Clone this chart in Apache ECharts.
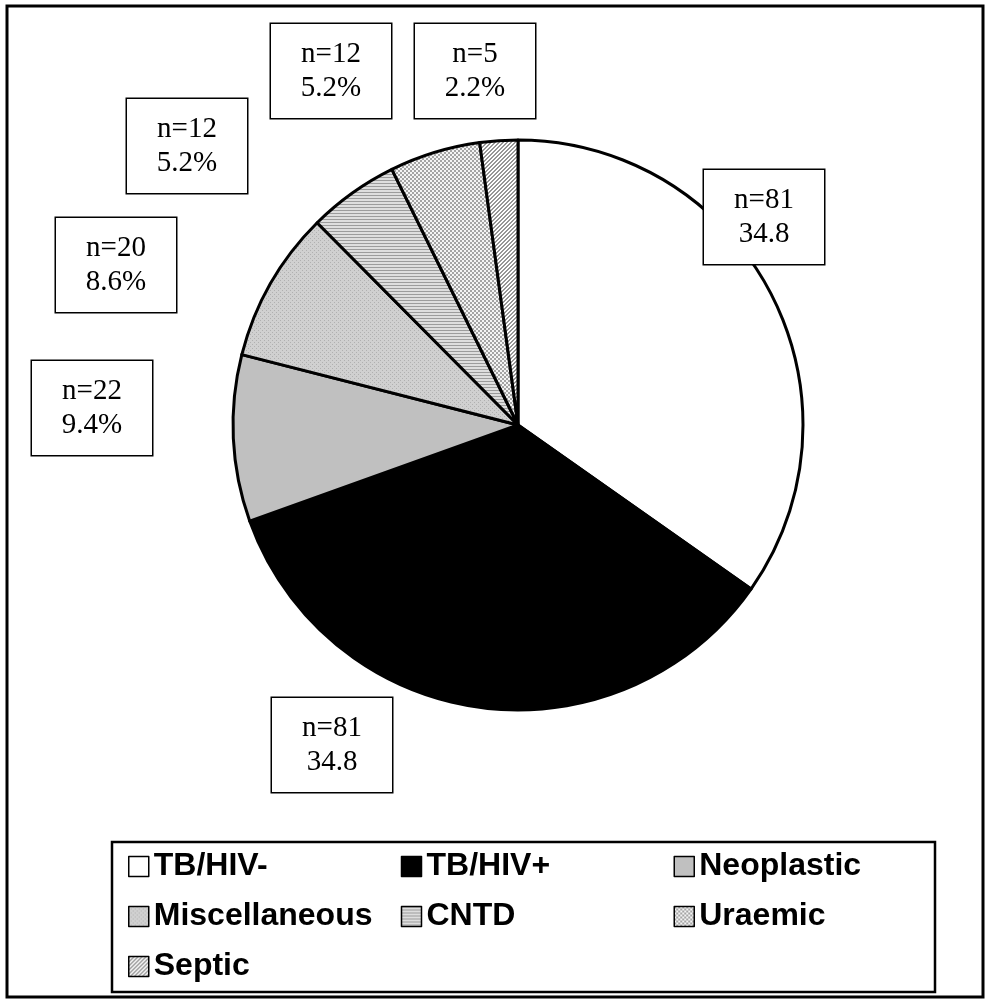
<!DOCTYPE html>
<html>
<head>
<meta charset="utf-8">
<script src="https://cdn.jsdelivr.net/npm/echarts@6/dist/echarts.min.js"></script>
<style>
html,body{margin:0;padding:0;background:#fff;}
#chart{width:986px;height:1002px;}
</style>
</head>
<body>
<div id="chart"></div>
<script>
const categories = ['TB/HIV-', 'TB/HIV+', 'Neoplastic', 'Miscellaneous', 'CNTD', 'Uraemic', 'Septic'];
const counts = [81, 81, 22, 20, 12, 12, 5];
const pctLabels = ['34.8', '34.8', '9.4%', '8.6%', '5.2%', '5.2%', '2.2%'];

// label box centres (layout only)
const labelCenters = [[764, 217], [332, 745], [92, 408], [116, 265], [187, 146], [331, 71], [475, 71]];

function pattern(w, h, fn) {
  const c = document.createElement('canvas');
  c.width = w; c.height = h;
  const ctx = c.getContext('2d');
  for (let y = 0; y < h; y++) {
    for (let x = 0; x < w; x++) {
      ctx.fillStyle = fn(x, y);
      ctx.fillRect(x, y, 1, 1);
    }
  }
  return { image: c, repeat: 'repeat' };
}

const fills = [
  '#ffffff',
  '#000000',
  '#c0c0c0',
  pattern(4, 4, (x, y) => ((x === 0 && y === 0) || (x === 2 && y === 2)) ? '#b0b0b0' : '#d0d0d0'),
  pattern(1, 3, (x, y) => y === 0 ? '#9c9c9c' : '#dedede'),
  pattern(4, 4, (x, y) => ((Math.floor(x / 2) + Math.floor(y / 2)) % 2 === 0) ? '#a4a4a4' : '#f4f4f4'),
  pattern(4, 4, (x, y) => (((x + y) % 4 === 0) || ((x + y) % 4 === 1)) ? '#969696' : '#ffffff')
];

const chart = echarts.init(document.getElementById('chart'), null, { renderer: 'canvas' });

const option = {
  animation: false,
  backgroundColor: '#ffffff',
  graphic: [
    {
      type: 'rect', z: 0,
      shape: { x: 7, y: 6, width: 976, height: 991 },
      style: { fill: 'none', stroke: '#000', lineWidth: 3 }
    },
    {
      type: 'rect', z: 0,
      shape: { x: 112, y: 842, width: 823, height: 150 },
      style: { fill: 'none', stroke: '#000', lineWidth: 2.5 }
    }
  ],
  legend: {
    left: 128,
    top: 849,
    width: 820,
    orient: 'horizontal',
    icon: 'rect',
    itemWidth: 20,
    itemHeight: 20,
    itemGap: 15,
    padding: 0,
    selectedMode: false,
    itemStyle: { borderColor: '#000', borderWidth: 1.5 },
    textStyle: {
      fontFamily: 'Liberation Sans, Arial, sans-serif',
      fontWeight: 'bold',
      fontSize: 32,
      lineHeight: 35,
      color: '#000',
      width: 232
    },
    data: categories
  },
  series: [{
    type: 'pie',
    center: [518, 425],
    radius: [0, 285],
    startAngle: 90,
    clockwise: true,
    avoidLabelOverlap: false,
    silent: true,
    itemStyle: { borderColor: '#000', borderWidth: 3 },
    label: {
      show: true,
      position: 'outside',
      formatter: (p) => 'n=' + counts[p.dataIndex] + '\n' + pctLabels[p.dataIndex],
      fontFamily: 'Liberation Serif, Times New Roman, serif',
      fontSize: 29,
      lineHeight: 34,
      color: '#000',
      align: 'center',
      backgroundColor: '#fff',
      borderColor: '#000',
      borderWidth: 1.5,
      padding: [15, 8, 11, 8],
      width: 104
    },
    labelLine: { show: false },
    labelLayout: (params) => ({
      x: labelCenters[params.dataIndex][0],
      y: labelCenters[params.dataIndex][1],
      align: 'center',
      verticalAlign: 'middle'
    }),
    emphasis: { disabled: true },
    data: categories.map((name, i) => ({
      name: name,
      value: counts[i],
      itemStyle: { color: fills[i] }
    }))
  }]
};

chart.setOption(option);
</script>
</body>
</html>
